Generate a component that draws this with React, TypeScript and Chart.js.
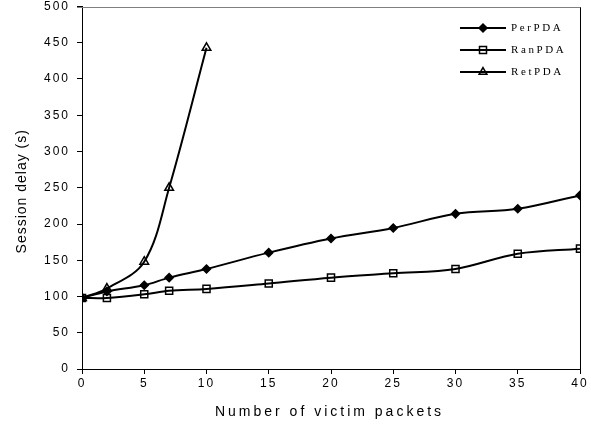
import React, { useEffect, useRef } from "react";
import { Chart, registerables } from "chart.js";

Chart.register(...registerables);

// ---- data ----
const xValues = [0, 2, 5, 7, 10, 15, 20, 25, 30, 35, 40];
const retXValues = [0, 2, 5, 7, 10];
const perPDA = [98, 107, 115.5, 126, 138, 160.5, 180, 194.5, 214, 221, 239.5];
const ranPDA = [98, 98, 103, 108, 110.5, 118, 126, 132, 138, 159, 166];
const retPDA = [98, 111, 148, 250, 443];
const seriesNames = ["PerPDA", "RanPDA", "RetPDA"];
const xTicksMax = 40;
const yTicksMax = 500;
const xTitle = "Number of victim packets";
const yTitle = "Session delay (s)";

const SANS = "'Liberation Sans', Arial, sans-serif";
const SERIF = "'Liberation Serif', 'Times New Roman', serif";

function drawMarker(ctx: CanvasRenderingContext2D, style: string, x: number, y: number) {
  ctx.save();
  ctx.strokeStyle = "#000";
  ctx.fillStyle = "#000";
  ctx.lineWidth = 1.5;
  ctx.beginPath();
  if (style === "rectRot") {
    const r = 4;
    ctx.moveTo(x, y - r);
    ctx.lineTo(x + r, y);
    ctx.lineTo(x, y + r);
    ctx.lineTo(x - r, y);
    ctx.closePath();
    ctx.fill();
    ctx.stroke();
  } else if (style === "rect") {
    const s = 3.5;
    ctx.rect(x - s, y - s, 2 * s, 2 * s);
    ctx.stroke();
  } else {
    const r = 4.5;
    ctx.moveTo(x, y - r);
    ctx.lineTo(x + r * Math.sin((2 * Math.PI) / 3), y - r * Math.cos((2 * Math.PI) / 3));
    ctx.lineTo(x + r * Math.sin((4 * Math.PI) / 3), y - r * Math.cos((4 * Math.PI) / 3));
    ctx.closePath();
    ctx.stroke();
  }
  ctx.restore();
}

export default function App() {
  const ref = useRef<HTMLCanvasElement>(null);

  useEffect(() => {
    const canvas = ref.current;
    if (!canvas) return;
    const pointStyles = ["rectRot", "rect", "triangle"];

    const customPlugin = {
      id: "customDecor",
      beforeDraw(chart: any) {
        chart.ctx.letterSpacing = "2px";
      },
      afterDraw(chart: any) {
        const { ctx, chartArea: ca } = chart;
        ctx.save();
        // top border (gray) and right border (black)
        ctx.lineWidth = 1;
        ctx.strokeStyle = "#808080";
        ctx.beginPath();
        ctx.moveTo(ca.left - 5, Math.round(ca.top) + 0.5);
        ctx.lineTo(ca.right + 1, Math.round(ca.top) + 0.5);
        ctx.stroke();
        ctx.strokeStyle = "#000";
        ctx.beginPath();
        ctx.moveTo(Math.round(ca.right) + 0.5, ca.top + 1);
        ctx.lineTo(Math.round(ca.right) + 0.5, ca.bottom);
        ctx.stroke();

        // axis titles
        ctx.fillStyle = "#000";
        ctx.font = `14px ${SANS}`;
        ctx.textBaseline = "middle";
        ctx.textAlign = "center";
        ctx.letterSpacing = "3px";
        ctx.fillText(xTitle, (ca.left + ca.right) / 2 - 1.5, 412);

        ctx.save();
        ctx.letterSpacing = "1px";
        ctx.translate(22, (ca.top + ca.bottom) / 2 + 4);
        ctx.rotate(-Math.PI / 2);
        ctx.fillText(yTitle, 0.5, 0);
        ctx.restore();

        // legend
        ctx.font = `11px ${SERIF}`;
        ctx.letterSpacing = "2.6px";
        ctx.textAlign = "left";
        seriesNames.forEach((name, i) => {
          const y = 28 + i * 22;
          ctx.strokeStyle = "#000";
          ctx.lineWidth = 2;
          ctx.beginPath();
          ctx.moveTo(460, y);
          ctx.lineTo(506, y);
          ctx.stroke();
          drawMarker(ctx, pointStyles[i], 483, y);
          ctx.fillStyle = "#000";
          ctx.fillText(name, 511, y);
        });
        ctx.restore();
      },
    };

    const common = {
      borderColor: "#000",
      borderWidth: 2,
      tension: 0.35,
      pointBorderColor: "#000",
      pointBorderWidth: 1.5,
      fill: false,
    };

    const chart = new Chart(canvas, {
      type: "line",
      data: {
        datasets: [
          {
            ...common,
            label: seriesNames[0],
            data: xValues.map((x, i) => ({ x, y: perPDA[i] })),
            pointStyle: "rectRot",
            pointRadius: 4,
            pointBackgroundColor: "#000",
          },
          {
            ...common,
            label: seriesNames[1],
            data: xValues.map((x, i) => ({ x, y: ranPDA[i] })),
            pointStyle: "rect",
            pointRadius: 5,
            pointBackgroundColor: "rgba(0,0,0,0)",
          },
          {
            ...common,
            label: seriesNames[2],
            data: retXValues.map((x, i) => ({ x, y: retPDA[i] })),
            pointStyle: "triangle",
            pointRadius: 5,
            pointBackgroundColor: "rgba(0,0,0,0)",
          },
        ],
      },
      options: {
        responsive: false,
        animation: false,
        layout: { padding: { top: 6, right: 11, left: 0, bottom: 0 } },
        plugins: { legend: { display: false }, tooltip: { enabled: false } },
        scales: {
          x: {
            type: "linear",
            min: 0,
            max: xTicksMax,
            ticks: {
              stepSize: 5,
              color: "#000",
              font: { family: SANS, size: 12 },
              padding: 2,
              maxRotation: 0,
            },
            grid: { drawOnChartArea: false, drawTicks: true, tickLength: 5, color: "#000" },
            border: { display: true, color: "#000", width: 1 },
            afterFit: (s: any) => {
              s.height = 58;
              s.paddingLeft = 0;
              s.paddingRight = 0;
            },
          },
          y: {
            type: "linear",
            min: 0,
            max: yTicksMax,
            ticks: {
              stepSize: 50,
              color: "#000",
              font: { family: SANS, size: 12 },
              padding: 7,
            },
            grid: { drawOnChartArea: false, drawTicks: true, tickLength: 5, color: "#000" },
            border: { display: true, color: "#000", width: 1 },
            afterFit: (s: any) => {
              s.width = 82;
              s.paddingTop = 0;
              s.paddingBottom = 0;
            },
          },
        },
      },
      plugins: [customPlugin],
    } as any);

    return () => chart.destroy();
  }, []);

  return (
    <div style={{ position: "fixed", left: 0, top: 0, width: 591, height: 427, background: "#fff" }}>
      <canvas ref={ref} width={591} height={427} style={{ width: 591, height: 427 }} />
    </div>
  );
}
